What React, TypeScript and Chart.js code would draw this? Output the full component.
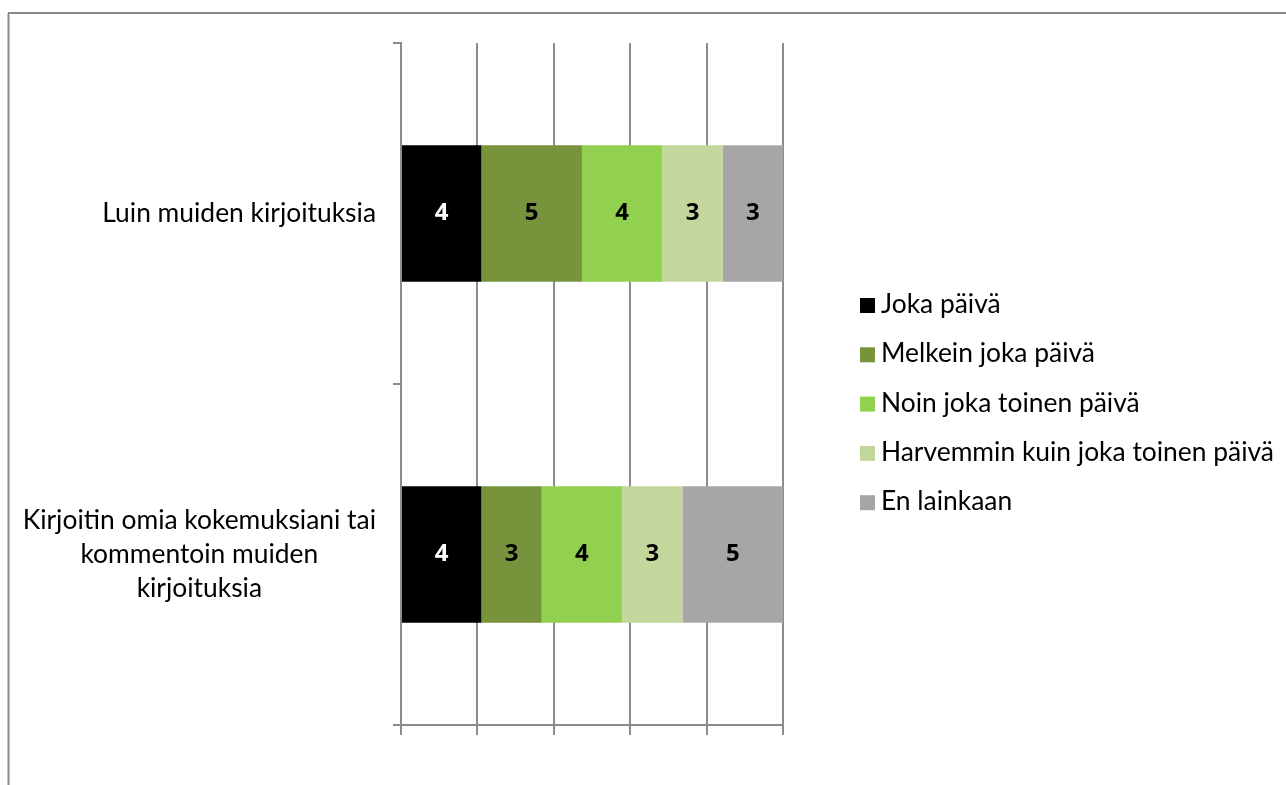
import React, { useEffect, useRef } from "react";
import { Chart, registerables } from "chart.js";

Chart.register(...registerables);

const categories: string[][] = [
  ["Luin muiden kirjoituksia"],
  ["Kirjoitin omia kokemuksiani tai", "kommentoin muiden", "kirjoituksia"],
];
const seriesNames = [
  "Joka päivä",
  "Melkein joka päivä",
  "Noin joka toinen päivä",
  "Harvemmin kuin joka toinen päivä",
  "En lainkaan",
];
const jokaPaiva = [4, 4];
const melkeinJokaPaiva = [5, 3];
const noinJokaToinen = [4, 4];
const harvemmin = [3, 3];
const enLainkaan = [3, 5];
const seriesValues = [jokaPaiva, melkeinJokaPaiva, noinJokaToinen, harvemmin, enLainkaan];
const seriesColors = ["#000000", "#77933C", "#92D050", "#C3D69B", "#A6A6A6"];
const labelColors = ["#FFFFFF", "#000000", "#000000", "#000000", "#000000"];
const xTicks = [0, 20, 40, 60, 80, 100];

const FONT = "Lato, 'Open Sans', sans-serif";
const TEXT_SIZE = 26.4;

export default function App() {
  const ref = useRef<HTMLCanvasElement | null>(null);

  useEffect(() => {
    const canvas = ref.current;
    if (!canvas) return;
    const totals = categories.map((_, i) =>
      seriesValues.reduce((s, arr) => s + arr[i], 0)
    );

    const framePlugin = {
      id: "frame",
      beforeDraw(chart: any) {
        const ctx = chart.ctx;
        ctx.save();
        ctx.fillStyle = "#ffffff";
        ctx.fillRect(0, 0, chart.width, chart.height);
        ctx.strokeStyle = "#8a8a8a";
        ctx.lineWidth = 2;
        ctx.beginPath();
        ctx.moveTo(8, 13);
        ctx.lineTo(chart.width, 13);
        ctx.moveTo(8.5, 13);
        ctx.lineTo(8.5, chart.height);
        ctx.stroke();
        ctx.restore();
      },
    };

    const labelsPlugin = {
      id: "customLabels",
      afterDraw(chart: any) {
        const ctx = chart.ctx;
        const yScale = chart.scales.y;
        ctx.save();
        // category labels
        ctx.font = `${TEXT_SIZE}px ${FONT}`;
        ctx.fillStyle = "#000000";
        ctx.textAlign = "center";
        ctx.textBaseline = "middle";
        const rightEdge = 376;
        const lineH = 34;
        categories.forEach((lines, i) => {
          const cy = yScale.getPixelForValue(i);
          const w = Math.max(...lines.map((l) => ctx.measureText(l).width));
          const cx = rightEdge - w / 2;
          const startY = cy - ((lines.length - 1) * lineH) / 2;
          lines.forEach((l, j) => ctx.fillText(l, cx, startY + j * lineH));
        });

        // data labels
        ctx.font = `bold 24px 'Open Sans', sans-serif`;
        chart.data.datasets.forEach((ds: any, di: number) => {
          const meta = chart.getDatasetMeta(di);
          meta.data.forEach((el: any, i: number) => {
            const cx = (el.x + el.base) / 2;
            ctx.fillStyle = labelColors[di];
            ctx.fillText(String(seriesValues[di][i]), cx, el.y);
          });
        });

        // legend
        ctx.font = `${TEXT_SIZE}px ${FONT}`;
        ctx.textAlign = "left";
        ctx.textBaseline = "alphabetic";
        const baseStart = 313;
        const step = 49.3;
        seriesNames.forEach((name, i) => {
          const by = baseStart + i * step;
          ctx.fillStyle = seriesColors[i];
          ctx.fillRect(860, by - 15, 15, 15);
          ctx.fillStyle = "#000000";
          ctx.fillText(name, 881, by);
        });
        ctx.restore();
      },
    };

    const chart = new Chart(canvas, {
      type: "bar",
      data: {
        labels: categories.map((c) => c.join(" ")),
        datasets: seriesNames.map((name, si) => ({
          label: name,
          data: seriesValues[si].map((v, i) => (v / totals[i]) * 100),
          backgroundColor: seriesColors[si],
          borderWidth: 0,
          categoryPercentage: 0.4,
          barPercentage: 1,
        })),
      },
      options: {
        indexAxis: "y",
        animation: false,
        responsive: false,
        layout: { padding: { left: 393, top: 43, right: 503, bottom: 50 } },
        plugins: {
          legend: { display: false },
          tooltip: { enabled: false },
          title: { display: false },
        },
        scales: {
          x: {
            stacked: true,
            min: 0,
            max: 100,
            afterBuildTicks: (s: any) => {
              s.ticks = xTicks.map((v) => ({ value: v }));
            },
            afterFit: (s: any) => {
              s.height = 10;
            },
            ticks: { display: false },
            grid: {
              color: "#8c8c8c",
              lineWidth: 2,
              drawTicks: true,
              tickLength: 10,
            },
            border: { display: true, color: "#8c8c8c", width: 2 },
          },
          y: {
            stacked: true,
            afterFit: (s: any) => {
              s.width = 8;
            },
            ticks: { display: false },
            grid: {
              offset: true,
              drawOnChartArea: false,
              drawTicks: true,
              tickLength: 8,
              color: "#8c8c8c",
              lineWidth: 2,
            },
            border: { display: true, color: "#8c8c8c", width: 2 },
          },
        },
      },
      plugins: [framePlugin, labelsPlugin],
    } as any);

    return () => chart.destroy();
  }, []);

  return (
    <div style={{ position: "fixed", left: 0, top: 0, width: 1286, height: 785 }}>
      <canvas ref={ref} width={1286} height={785} style={{ width: 1286, height: 785, display: "block" }} />
    </div>
  );
}
